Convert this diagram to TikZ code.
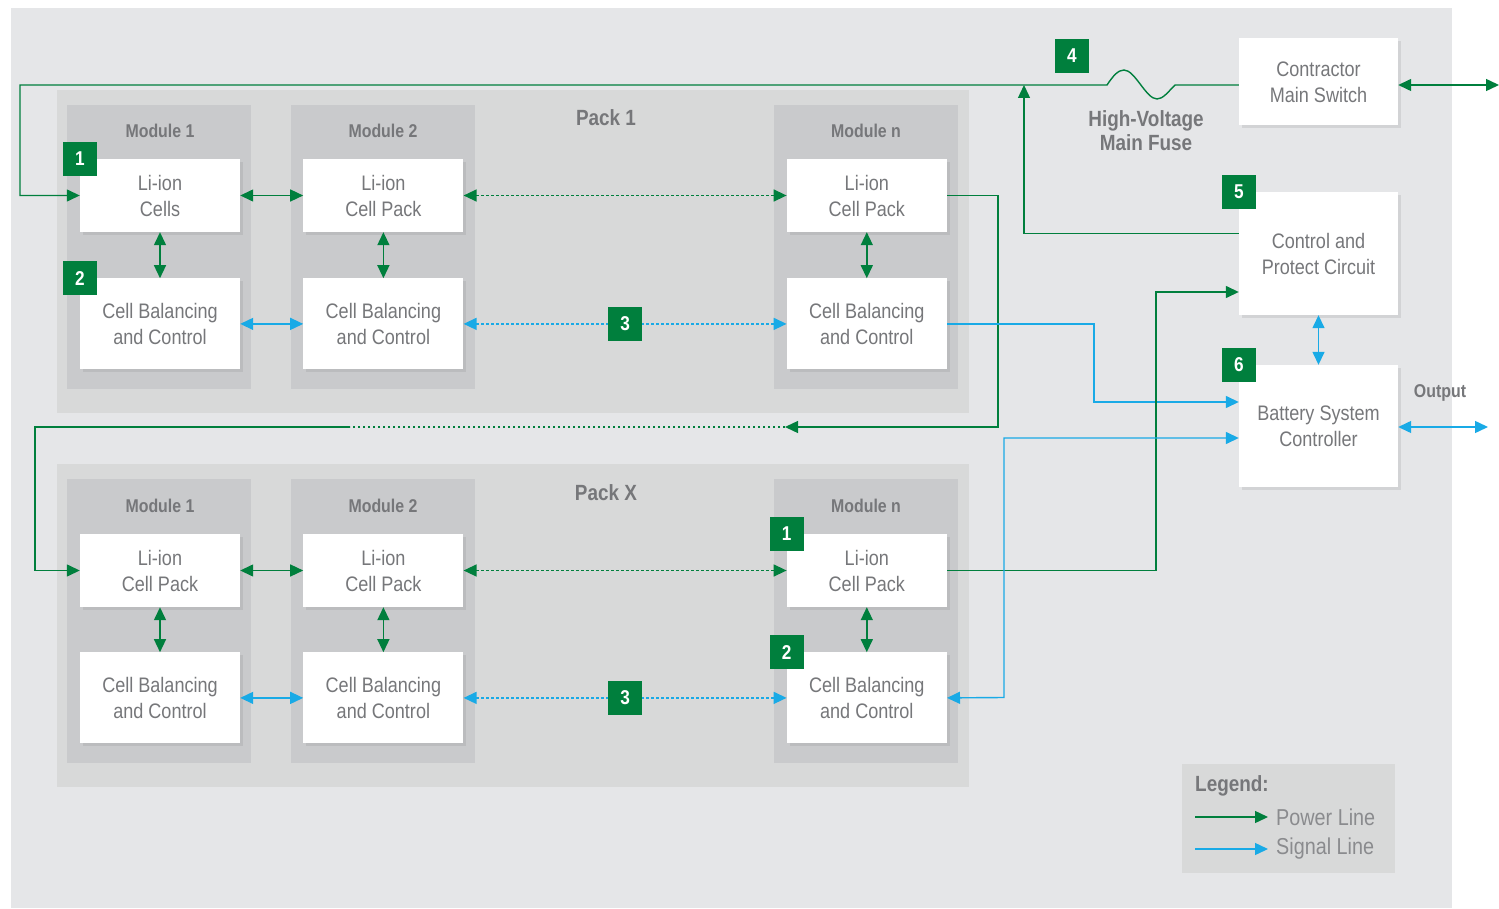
\documentclass[tikz,border=0pt]{standalone}
\usepackage{fontspec}
\setmainfont{Liberation Sans}[FakeStretch=0.86]
\usetikzlibrary{arrows.meta,positioning,shadows,calc}

\definecolor{bgouter}{HTML}{E5E6E8}
\definecolor{bgpack}{HTML}{D8D9D9}
\definecolor{bgmod}{HTML}{C9CACC}
\definecolor{txtgray}{HTML}{76777A}
\definecolor{pgreen}{HTML}{007F3D}
\definecolor{sblue}{HTML}{19AAE6}

\begin{document}
\begin{tikzpicture}[x=1pt, y=-1pt,
  >={Triangle[length=13pt,width=12pt]},
  cellbox/.style={fill=white, minimum width=160pt, minimum height=73pt, align=center, text=txtgray,
    font=\fontsize{21}{26}\selectfont, drop shadow={shadow xshift=3pt, shadow yshift=-3pt, opacity=0.18}},
  balbox/.style={cellbox, minimum height=91pt},
  ctrlbox/.style={cellbox, minimum width=159pt, minimum height=123pt},
  badge/.style={fill=pgreen, text=white, minimum size=34pt, inner sep=0pt, font=\fontsize{20}{20}\bfseries\selectfont},
  modlabel/.style={text=txtgray, font=\fontsize{18.5}{18.5}\bfseries\selectfont},
  packlabel/.style={text=txtgray, font=\fontsize{22}{22}\bfseries\selectfont},
  power/.style={draw=pgreen, line width=1.4pt},
  signal/.style={draw=sblue, line width=1.4pt},
  dots/.style={dash pattern=on 2.5pt off 2.5pt},
  node distance=46pt and 63pt
]
\useasboundingbox (0,0) rectangle (1499,909);
\fill[bgouter] (11,8) rectangle (1452,908);

% Packs and modules
\fill[bgpack] (57,90) rectangle (969,413);
\fill[bgpack] (57,464) rectangle (969,787);
\foreach \mx in {67,291,774}{
  \fill[bgmod] (\mx,105) rectangle ++(184,284);
  \fill[bgmod] (\mx,479) rectangle ++(184,284);
}
\node[packlabel] (pack1) at (606,118) {Pack 1};
\node[packlabel] (packx) at (606,493) {Pack X};
\node[modlabel] (m11) at (160,131) {Module 1};
\node[modlabel] (m12) at (383,131) {Module 2};
\node[modlabel] (m13) at (866,131) {Module n};
\node[modlabel] (m21) at (160,506) {Module 1};
\node[modlabel] (m22) at (383,506) {Module 2};
\node[modlabel] (m23) at (866,506) {Module n};

% Pack 1
\node[cellbox] (c11) at (160,195.5) {Li-ion\\Cells};
\node[cellbox, right=63pt of c11] (c12) {Li-ion\\Cell Pack};
\node[cellbox, right=323pt of c12] (c13) {Li-ion\\Cell Pack};
\node[balbox, below=46pt of c11] (b11) {Cell Balancing\\and Control};
\node[balbox, below=46pt of c12] (b12) {Cell Balancing\\and Control};
\node[balbox, below=46pt of c13] (b13) {Cell Balancing\\and Control};

% Pack X
\node[cellbox] (c21) at (160,570.5) {Li-ion\\Cell Pack};
\node[cellbox, right=63pt of c21] (c22) {Li-ion\\Cell Pack};
\node[cellbox, right=323pt of c22] (c23) {Li-ion\\Cell Pack};
\node[balbox, below=45pt of c21] (b21) {Cell Balancing\\and Control};
\node[balbox, below=45pt of c22] (b22) {Cell Balancing\\and Control};
\node[balbox, below=45pt of c23] (b23) {Cell Balancing\\and Control};

% System blocks
\node[cellbox, minimum width=159pt, minimum height=87pt] (cms) at (1318.5,82) {Contractor\\Main Switch};
\node[ctrlbox] (cp) at (1318.5,253.5) {Control and\\Protect Circuit};
\node[ctrlbox, minimum height=122pt] (bsc) at (1318.5,426) {Battery System\\Controller};

\node[packlabel, align=center, font=\fontsize{22}{24}\bfseries\selectfont] (fuse) at (1146,131) {High-Voltage\\Main Fuse};
\node[modlabel] (outlbl) at (1440,393) {Output};

% Links inside packs
\foreach \p in {1,2}{
  \draw[power,<->] (c\p1) -- (b\p1);
  \draw[power,<->] (c\p2) -- (b\p2);
  \draw[power,<->] (c\p3) -- (b\p3);
  \draw[power,<->] (c\p1) -- (c\p2);
  \draw[power,<->,dots] (c\p2) -- (c\p3);
  \draw[signal,<->] (b\p1) -- (b\p2);
  \draw[signal,<->,dots] (b\p2) -- (b\p3);
}

% Main power loop with fuse
\coordinate (fusejoin) at (1024,85);
\coordinate (swout) at (1499,85);
\coordinate (bscout) at (1488,427);
\draw[power,->] (cms.west |- 0,85) -- (1175,85)
  .. controls (1168,92) and (1163,99) .. (1157,99)
  .. controls (1146,99) and (1135,70) .. (1124,70)
  .. controls (1118,70) and (1113,76) .. (1107,85)
  -- (20,85) |- (c11.west);
\draw[power,<->] (cms.east |- swout) -- (swout);
\draw[power,->] ([yshift=20pt]cp.west) -| (fusejoin);

% Pack 1 to Pack X
\coordinate (linka) at (785,427);
\coordinate (linkb) at (350,427);
\draw[power,->] (c13.east) -| (998,427) -- (linka);
\draw[power,dots] (linka) -- (linkb);
\draw[power,->] (linkb) -- (35,427) |- (c21.west);

% Links to control blocks
\draw[signal,->] (b13.east) -| (1094,402) -- ([yshift=24pt]bsc.west);
\draw[power,->] (c23.east) -| (1156,292) -- ([yshift=-38.5pt]cp.west);
\draw[signal,<->] (b23.east) -- (1004,697.5) |- ([yshift=-12pt]bsc.west);
\draw[signal,<->] (cp) -- (bsc);
\draw[signal,<->] (bsc.east |- bscout) -- (bscout);

% Badges
\node[badge] (n1a) at (c11.north west) {1};
\node[badge] (n2a) at (b11.north west) {2};
\node[badge] (n3a) at ($(b12.east)!0.5!(b13.west)$) {3};
\node[badge] (n1b) at (c23.north west) {1};
\node[badge] (n2b) at (b23.north west) {2};
\node[badge] (n3b) at ($(b22.east)!0.5!(b23.west)$) {3};
\node[badge] (n4) at (1072,56) {4};
\node[badge] (n5) at (cp.north west) {5};
\node[badge] (n6) at (bsc.north west) {6};

% Legend
\fill[bgpack] (1182,764) rectangle (1395,873);
\node[packlabel, anchor=west, inner sep=0pt] (leg) at (1195,786) {Legend:};
\coordinate (pw1) at (1195,817);
\coordinate (pw2) at (1268,817);
\coordinate (sg1) at (1195,849);
\coordinate (sg2) at (1268,849);
\draw[power,->] (pw1) -- (pw2);
\draw[signal,->] (sg1) -- (sg2);
\node[anchor=west, text=txtgray!85, font=\fontsize{23}{23}\selectfont, inner sep=0pt] (legpw) at (1276,817) {Power Line};
\node[anchor=west, text=txtgray!85, font=\fontsize{23}{23}\selectfont, inner sep=0pt] (legsg) at (1276,849) {Signal Line};
\end{tikzpicture}
\end{document}
